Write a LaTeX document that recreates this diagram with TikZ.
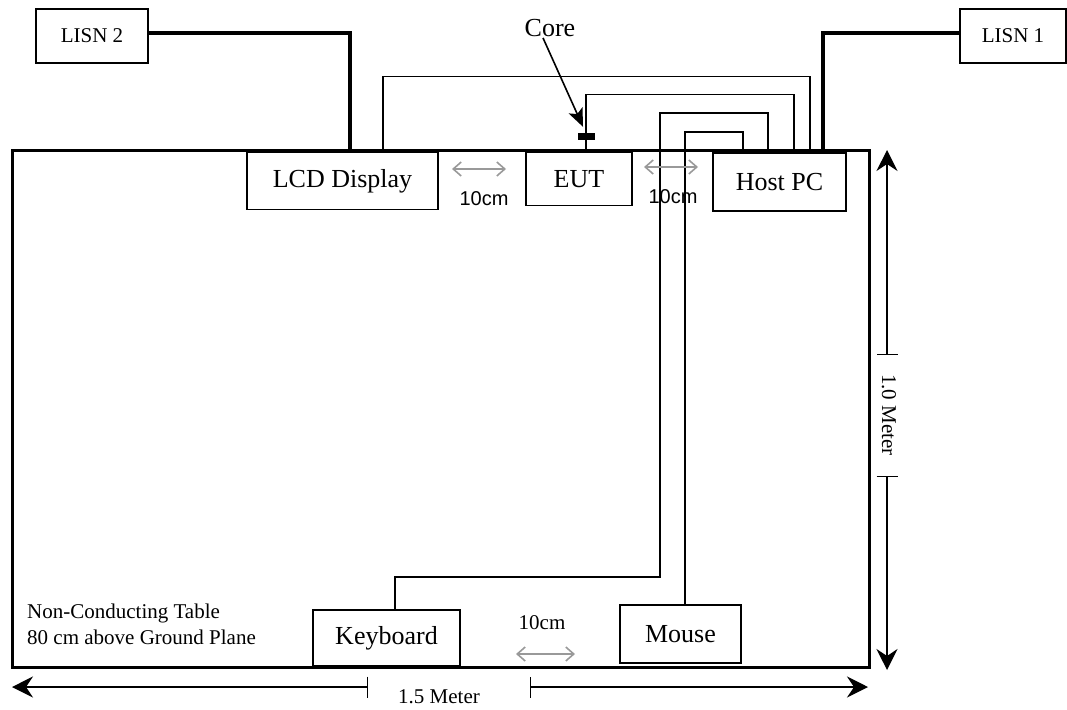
\documentclass[tikz,border=0pt]{standalone}
\usepackage{fontspec}
\setmainfont{Liberation Serif}
\newfontfamily\arialfont{Liberation Sans}
\usetikzlibrary{arrows.meta}
\begin{document}
\begin{tikzpicture}[x=1pt,y=-1pt,
  box/.style={draw,line width=1.5pt,inner sep=0pt,font=\fontsize{26}{30}\selectfont},
  smallbox/.style={draw,line width=1.5pt,inner sep=0pt,font=\fontsize{21}{25}\selectfont},
  power/.style={line width=3.5pt},
  cable/.style={line width=1.4pt},
  gap/.style={draw=black!40,line width=1.6pt,{Straight Barb[length=8pt,width=14pt]}-{Straight Barb[length=8pt,width=14pt]}},
  dim/.style={line width=1.4pt,{Bar[width=21pt]}-{Stealth[length=21pt,width=21pt,inset=7pt]}},
  small/.style={inner sep=0pt,font=\fontsize{21}{26}\selectfont},
  sanslabel/.style={inner sep=0pt,font=\arialfont\fontsize{20}{24}\selectfont}]
\useasboundingbox (0,0) rectangle (1067,709);
% table
\node[draw,line width=3pt,minimum width=857pt,minimum height=517pt,inner sep=0pt] (table) at (440.5,408.5) {};
% boxes
\node[smallbox,minimum width=112pt,minimum height=54pt] (lisn2) at (92,36) {LISN 2};
\node[smallbox,minimum width=106pt,minimum height=54pt] (lisn1) at (1013,36) {LISN 1};
\node[box,minimum width=191pt,minimum height=57pt,fill=white] (lcd) at (342.5,181) {LCD Display};
\node[box,minimum width=106pt,minimum height=53pt,fill=white] (eut) at (579,179) {EUT};
\node[box,minimum width=133pt,minimum height=58pt,fill=white] (host) at (779.5,182) {Host PC};
\node[box,minimum width=147pt,minimum height=56pt,fill=white] (kbd) at (386.5,638) {Keyboard};
\node[box,minimum width=121pt,minimum height=58pt,fill=white] (mouse) at (680.5,634) {Mouse};
% power cords
\draw[power] ([yshift=3pt]lisn2.east) -| ([xshift=7.5pt]lcd.north);
\draw[power] ([yshift=3pt]lisn1.west) -| ([xshift=43.5pt]host.north);
% signal cables
\draw[cable] ([xshift=40.5pt]lcd.north) |- ([xshift=30.5pt,yshift=76pt]host.north) -- ([xshift=30.5pt]host.north);
\draw[cable] ([xshift=7pt]eut.north) |- ([xshift=14.5pt,yshift=57.5pt]host.north) -- ([xshift=14.5pt]host.north);
\draw[cable] ([xshift=-11.5pt]host.north) |- (660,113) -- (660,577) -| ([xshift=8.5pt]kbd.north);
\draw[cable] ([xshift=-36.5pt]host.north) |- (685,132) -- ([xshift=4.5pt]mouse.north);
% core
\node[fill=black,minimum width=17pt,minimum height=7pt,inner sep=0pt] (core) at (586.5,136.5) {};
\node[inner sep=0pt,font=\fontsize{26}{30}\selectfont] (coretxt) at (550,28) {Core};
\draw[line width=1.6pt,-{Stealth[length=18pt,width=15pt,inset=4pt]}] ([xshift=-7pt,yshift=-1pt]coretxt.south) -- ([xshift=-3.5pt,yshift=6pt]core.north);
% spacing markers
\draw[gap] (452,169) -- (506,169);
\node[sanslabel] (g1) at (484,199) {10cm};
\draw[gap] (644,167) -- (698,167);
\node[sanslabel] (g2) at (673,197) {10cm};
\draw[gap] (516,654) -- (575,654);
\node[small] (g3) at (542,623) {10cm};
% table label
\node[small,anchor=west,align=left] (tl) at (27,624) {Non-Conducting Table\\80 cm above Ground Plane};
% dimensions
\draw[dim] (368,687) -- (12,687);
\draw[dim] (530,687) -- (868,687);
\node[small] (w) at (439,697) {1.5 Meter};
\draw[dim] (887,355) -- (887,150);
\draw[dim] (887,476) -- (887,670);
\node[small,rotate=-90] (h) at (889,415) {1.0 Meter};
\end{tikzpicture}
\end{document}
